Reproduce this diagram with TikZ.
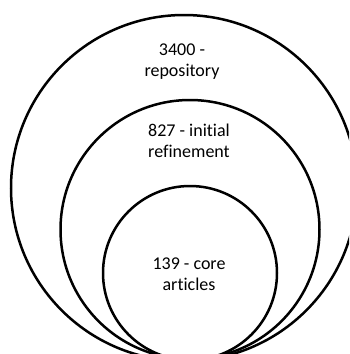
\documentclass[tikz,border=0pt]{standalone}
\usepackage{fontspec}
\setmainfont[Ligatures={NoCommon}]{Carlito}
\tikzset{
  ring/.style={circle, draw=black, line width=2.5pt, inner sep=0pt, fill=none},
  lbl/.style={align=center, inner sep=0pt, font=\fontsize{18}{21}\selectfont}
}
\begin{document}
\begin{tikzpicture}[x=1pt,y=-1pt]
\useasboundingbox (0,0) rectangle (349,354);
\clip (0,0) rectangle (349,354);
\fill[white] (0,0) rectangle (349,354);
\node[ring, minimum size=346pt] (outer) at (184,188) {};
\node[ring, minimum size=259pt] (middle) at (190,229.5) {};
\node[ring, minimum size=174pt] (inner) at (190,273) {};
\node[lbl] (t1) at (182,62) {3400 -\\repository};
\node[lbl] (t2) at (189,141) {827 - initial\\refinement};
\node[lbl] (t3) at (189,274) {139 - core\\articles};
\end{tikzpicture}
\end{document}
